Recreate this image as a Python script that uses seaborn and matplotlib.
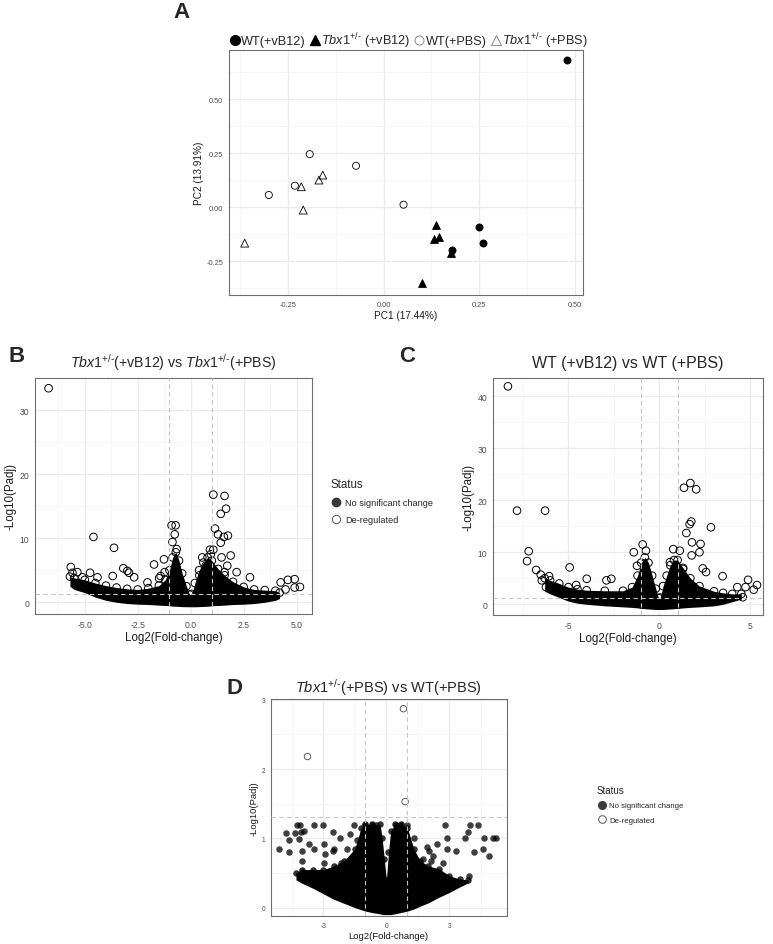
import numpy as np
import pandas as pd
import matplotlib
matplotlib.use('Agg')
import matplotlib.pyplot as plt
from matplotlib.lines import Line2D
from matplotlib.ticker import FixedLocator
import seaborn as sns

# ---------------- panel A : PCA ----------------
wt_vb12_pc1 = [0.479, 0.250, 0.260, 0.180]
wt_vb12_pc2 = [0.681, -0.091, -0.168, -0.199]
tbx_vb12_pc1 = [0.137, 0.144, 0.131, 0.177, 0.100]
tbx_vb12_pc2 = [-0.082, -0.139, -0.150, -0.214, -0.352]
wt_pbs_pc1 = [-0.193, -0.072, -0.232, -0.300, 0.052]
wt_pbs_pc2 = [0.245, 0.191, 0.099, 0.056, 0.011]
tbx_pbs_pc1 = [-0.215, -0.169, -0.159, -0.210, -0.363]
tbx_pbs_pc2 = [0.094, 0.125, 0.148, -0.014, -0.167]

# ---------------- panel B : Tbx1 vB12 vs PBS ----------------
b_out_x = [-6.71, -4.59, -3.62, -1.73, -1.26, -0.90, -0.71, -0.75, -0.86, -0.66,
           1.07, 1.60, 1.67, 1.42, 1.15, 1.29, 1.76, 1.42, 1.57, 0.91, 1.07, 0.95,
           1.89, 2.17, 2.80, 4.59, 4.91, 5.16, 4.91, 4.48, 4.25,
           -5.66, -5.58, -5.35, -5.11, -5.06, -4.75, -4.40, -3.68, -3.18, -2.99,
           -2.91, -2.67, -2.04, -1.49, -1.42, -1.23, 0.41, 0.71, 0.55, 1.46, 1.73, 1.60]
b_out_y = [33.4, 10.2, 8.5, 5.9, 6.7, 12.0, 12.0, 10.6, 9.4, 8.3,
           16.8, 16.6, 14.6, 13.8, 11.5, 10.6, 10.4, 9.3, 10.2, 8.2, 8.2, 7.5,
           7.3, 4.7, 3.9, 3.5, 3.6, 2.4, 2.3, 2.0, 3.1,
           5.5, 4.6, 4.7, 3.9, 2.6, 4.6, 3.9, 4.1, 5.3, 4.9,
           4.6, 3.9, 3.1, 3.75, 4.1, 4.7, 4.2, 5.7, 7.0, 7.0, 5.7, 4.7]
b_mass_x = [-5.7, -5.5, -5.0, -4.5, -4.0, -3.5, -3.0, -2.5, -2.0, -1.5, -1.2, -1.0,
            -0.85, -0.7, -0.55, -0.4, -0.2, -0.05, 0.05, 0.2, 0.4, 0.6, 0.8, 1.0,
            1.3, 1.6, 2.0, 2.5, 3.0, 3.5, 4.0, 4.2]
b_mass_top = [4.0, 3.8, 3.5, 3.0, 2.6, 2.3, 2.1, 2.0, 2.2, 2.6, 3.5, 5.0,
              7.0, 7.8, 6.5, 4.5, 2.5, 1.2, 1.3, 3.0, 5.0, 6.2, 7.0, 6.5,
              5.2, 4.2, 3.2, 2.4, 2.0, 1.9, 1.8, 1.5]
b_mass_bot = [2.5, 2.0, 1.5, 0.8, 0.3, 0.0, -0.2, -0.3, -0.35, -0.45, -0.5, -0.55,
              -0.6, -0.62, -0.65, -0.68, -0.7, -0.7, -0.7, -0.7, -0.68, -0.65, -0.62, -0.55,
              -0.5, -0.45, -0.35, -0.3, -0.2, 0.0, 0.3, 0.6]

# ---------------- panel C : WT vB12 vs PBS ----------------
c_out_x = [-8.32, -7.82, -6.28, -7.18, -7.27, -6.77, -6.52, -6.46, -6.23, -6.06,
           -4.93, -3.99, -2.91, -2.64, -4.57, -1.41, -0.92, -1.23, -0.74,
           1.35, 1.70, 2.02, 2.83, 1.75, 1.66, 1.48, 1.79, 2.26, 2.20, 1.77,
           3.47, 2.56, 1.12, 4.87, 5.36, 5.18, 4.73, 4.28, 4.58, 0.76, 0.58, 2.38, 1.30]
c_out_y = [41.9, 18.0, 18.0, 10.2, 8.3, 6.6, 5.7, 4.6, 3.3, 5.4,
           7.1, 4.9, 4.6, 4.9, 3.7, 10.0, 11.5, 7.4, 10.3,
           22.4, 23.3, 22.1, 14.8, 15.9, 15.4, 13.7, 11.9, 11.6, 10.0, 9.4,
           5.4, 6.2, 10.3, 4.7, 3.7, 2.8, 3.3, 3.3, 1.35, 10.6, 8.1, 6.9, 6.8]
c_mass_x = [-6.3, -6.0, -5.5, -5.0, -4.5, -4.0, -3.0, -2.0, -1.5, -1.2, -1.0, -0.8,
            -0.6, -0.4, -0.2, -0.05, 0.05, 0.2, 0.4, 0.6, 0.8, 1.0, 1.3, 1.7,
            2.2, 3.0, 3.5, 4.0, 4.5]
c_mass_top = [5.0, 4.6, 4.0, 3.3, 2.9, 2.7, 2.6, 2.6, 3.3, 5.5, 8.0, 9.0,
              8.0, 5.5, 3.0, 1.2, 1.3, 3.5, 5.5, 7.5, 8.5, 8.5, 7.0, 5.0,
              3.5, 2.5, 2.2, 2.0, 2.0]
c_mass_bot = [2.5, 2.0, 1.3, 0.6, 0.2, 0.0, -0.3, -0.5, -0.6, -0.7, -0.8, -0.85,
              -0.9, -0.95, -1.0, -1.0, -1.0, -1.0, -0.95, -0.9, -0.85, -0.8, -0.7, -0.6,
              -0.5, -0.3, 0.0, 0.5, 1.0]

# ---------------- panel D : Tbx1 PBS vs WT PBS ----------------
d_up_x = [0.81, -3.75, 0.89]
d_up_y = [2.87, 2.18, 1.53]
d_ns_x = [-4.26, -4.10, -3.43, -3.03, -1.55, -1.04, -0.67, -0.48, 0.48, 0.69, 0.96,
          2.79, 3.99, 4.34,
          -5.10, -4.78, -4.63, -4.34, -4.07, -3.91, -4.15, -3.67, -2.95, -2.90,
          -2.50, -2.55, -2.20, -1.87, -1.75, -1.59, -1.12, -1.39,
          1.31, 1.95, 2.42, 2.90, 2.90, 3.32, 3.75, 3.86, 4.63, 5.07, 5.23,
          4.90, 4.59, 4.18, 3.91, 2.71, 2.23, 2.04, 1.75, 2.11,
          -4.63, -3.99, -4.02, -3.99, -3.43, -2.95, -2.15, -2.55]
d_ns_y = [1.19, 1.19, 1.19, 1.19, 1.19, 1.19, 1.19, 1.19, 1.19, 1.19, 1.19,
          1.19, 1.19, 1.19,
          0.84, 1.08, 0.97, 1.08, 1.09, 1.11, 0.99, 0.92, 0.92, 0.77,
          0.84, 1.09, 1.00, 0.84, 1.06, 0.70, 1.08, 0.97,
          1.01, 0.87, 0.92, 1.01, 0.84, 0.82, 1.01, 1.09, 1.00, 1.00, 1.00,
          0.75, 0.85, 0.80, 0.46, 0.65, 0.75, 0.81, 0.70, 0.68,
          0.80, 0.82, 0.68, 0.51, 0.84, 0.64, 0.64, 0.82]
d_mass_x = [-4.3, -4.0, -3.5, -3.0, -2.5, -2.0, -1.5, -1.2, -1.0, -0.7, -0.3, -0.2,
            -0.1, 0.0, 0.1, 0.2, 0.4, 0.7, 1.0, 1.3, 1.6, 2.0, 2.5, 3.0, 3.5, 3.9]
d_mass_top = [0.5, 0.55, 0.55, 0.55, 0.6, 0.68, 0.85, 1.15, 1.2, 1.2, 1.2, 1.0,
              0.7, 0.4, 0.8, 1.1, 1.2, 1.2, 1.15, 0.85, 0.68, 0.6, 0.56, 0.46, 0.41, 0.4]
d_mass_bot = [0.4, 0.35, 0.28, 0.2, 0.12, 0.06, 0.0, -0.03, -0.05, -0.07, -0.09, -0.1,
              -0.1, -0.1, -0.1, -0.1, -0.09, -0.07, -0.05, -0.02, 0.02, 0.07, 0.15, 0.22, 0.3, 0.36]

sns.set_theme(style='whitegrid')
plt.rcParams['font.family'] = ['Liberation Sans', 'DejaVu Sans']
plt.rcParams['mathtext.fontset'] = 'custom'
plt.rcParams['mathtext.rm'] = 'Liberation Sans'
plt.rcParams['mathtext.it'] = 'Liberation Sans:italic'
plt.rcParams['mathtext.bf'] = 'Liberation Sans:bold'

TBX = r'$\mathit{Tbx1}^{\text{+/-}}$'
GRID_MAJ = '#EBEBEB'
GRID_MIN = '#F3F3F3'
DASH = '#C4C4C4'

fig = plt.figure(figsize=(7.73, 9.45), dpi=100)


def frame(ax, xlim, ylim, xmaj, xmin, ymaj, ymin, xlab, ylab, tick_fs, lab_fs):
    ax.set_xlim(xlim)
    ax.set_ylim(ylim)
    ax.xaxis.set_major_locator(FixedLocator(xmaj[0]))
    ax.yaxis.set_major_locator(FixedLocator(ymaj[0]))
    ax.set_xticklabels(xmaj[1])
    ax.set_yticklabels(ymaj[1])
    ax.xaxis.set_minor_locator(FixedLocator(xmin))
    ax.yaxis.set_minor_locator(FixedLocator(ymin))
    ax.grid(which='major', color=GRID_MAJ, lw=0.9)
    ax.grid(which='minor', color=GRID_MIN, lw=0.5)
    ax.set_axisbelow(True)
    for sp in ax.spines.values():
        sp.set_color('#6E6E6E')
        sp.set_linewidth(0.8)
    ax.tick_params(which='major', length=2.5, width=0.6, color='#555555',
                   labelsize=tick_fs, labelcolor='#4D4D4D', pad=1.5)
    ax.tick_params(which='minor', length=0)
    ax.set_xlabel(xlab, fontsize=lab_fs, color='#1A1A1A', labelpad=1.5)
    ax.set_ylabel(ylab, fontsize=lab_fs, color='#1A1A1A', labelpad=2)


# ---------------- A ----------------
axA = fig.add_axes([229 / 773, 1 - 296 / 945, 354 / 773, 245 / 945])
grpA = [
    (wt_vb12_pc1, wt_vb12_pc2, 'o', 'black', 26),
    (tbx_vb12_pc1, tbx_vb12_pc2, '^', 'black', 32),
    (wt_pbs_pc1, wt_pbs_pc2, 'o', 'none', 26),
    (tbx_pbs_pc1, tbx_pbs_pc2, '^', 'none', 32),
]
for px, py, mk, fc, sz in grpA:
    sns.scatterplot(x=px, y=py, ax=axA, marker=mk, s=sz, facecolor=fc,
                    edgecolor='black', linewidth=0.6, zorder=3)
frame(axA, (-0.404, 0.521), (-0.407, 0.727),
      ([-0.25, 0, 0.25, 0.5], ['-0.25', '0.00', '0.25', '0.50']),
      [-0.375, -0.125, 0.125, 0.375],
      ([-0.25, 0, 0.25, 0.5], ['-0.25', '0.00', '0.25', '0.50']),
      [-0.375, -0.125, 0.125, 0.375, 0.625],
      'PC1 (17.44%)', 'PC2 (13.91%)', 5.3, 7.2)

hA = [
    Line2D([], [], ls='none', marker='o', mfc='black', mec='black', ms=7, label='WT(+vB12)'),
    Line2D([], [], ls='none', marker='^', mfc='black', mec='black', ms=7.5, label=TBX + ' (+vB12)'),
    Line2D([], [], ls='none', marker='o', mfc='white', mec='#777777', mew=0.6, ms=6.5, label='WT(+PBS)'),
    Line2D([], [], ls='none', marker='^', mfc='white', mec='#777777', mew=0.6, ms=7.5, label=TBX + ' (+PBS)'),
]
fig.legend(handles=hA, loc='center', bbox_to_anchor=(408 / 773, 1 - 41 / 945), ncol=4,
           frameon=False, fontsize=9.2, handletextpad=0.0, columnspacing=0.2,
           handlelength=1.0, borderpad=0)


def volcano(ax, mx, mtop, mbot, ox, oy, s):
    ax.fill_between(mx, mbot, mtop, color='black', lw=0, zorder=2)
    sns.scatterplot(x=mx, y=mtop, ax=ax, s=s, facecolor='none',
                    edgecolor='black', linewidth=0.7, zorder=2.5)
    sns.scatterplot(x=ox, y=oy, ax=ax, s=s, facecolor='none',
                    edgecolor='black', linewidth=0.7, zorder=3)
    for v in (-1, 1):
        ax.axvline(v, color=DASH, ls=(0, (4, 3)), lw=0.8, zorder=4)
    ax.axhline(-np.log10(0.05), color=DASH, ls=(0, (4, 3)), lw=0.8, zorder=4)


# ---------------- B ----------------
axB = fig.add_axes([35 / 773, 1 - 615 / 945, 277 / 773, 236 / 945])
volcano(axB, b_mass_x, b_mass_top, b_mass_bot, b_out_x, b_out_y, 30)
frame(axB, (-7.35, 5.73), (-1.83, 35.0),
      ([-5, -2.5, 0, 2.5, 5], ['-5.0', '-2.5', '0.0', '2.5', '5.0']),
      [-6.25, -3.75, -1.25, 1.25, 3.75],
      ([0, 10, 20, 30], ['0', '10', '20', '30']), [5, 15, 25, 35],
      'Log2(Fold-change)', '-Log10(Padj)', 6.2, 8.3)
axB.set_title(TBX + '(+vB12) vs ' + TBX + '(+PBS)', fontsize=10.2, pad=8)

# ---------------- C ----------------
axC = fig.add_axes([493 / 773, 1 - 616 / 945, 270 / 773, 237 / 945])
volcano(axC, c_mass_x, c_mass_top, c_mass_bot, c_out_x, c_out_y, 30)
frame(axC, (-9.14, 5.69), (-2.06, 43.5),
      ([-5, 0, 5], ['-5', '0', '5']), [-7.5, -2.5, 2.5],
      ([0, 10, 20, 30, 40], ['0', '10', '20', '30', '40']), [5, 15, 25, 35],
      'Log2(Fold-change)', '-Log10(Padj)', 6.2, 8.3)
axC.set_title('WT (+vB12) vs WT (+PBS)', fontsize=11.5, pad=8)

# ---------------- D ----------------
axD = fig.add_axes([270.7 / 773, 1 - 917.3 / 945, 236 / 773, 217.3 / 945])
axD.fill_between(d_mass_x, d_mass_bot, d_mass_top, color='black', lw=0, zorder=2)
sns.scatterplot(x=d_mass_x, y=d_mass_top, ax=axD, s=22,
                color='black', alpha=0.8, linewidth=0, zorder=2.5)
sns.scatterplot(x=d_ns_x, y=d_ns_y, ax=axD, s=22, color='black', alpha=0.75,
                linewidth=0, zorder=3)
sns.scatterplot(x=d_up_x, y=d_up_y, ax=axD, s=22, facecolor='none',
                edgecolor='#444444', linewidth=0.6, zorder=3)
for v in (-1, 1):
    axD.axvline(v, color=DASH, ls=(0, (4, 3)), lw=0.8, zorder=4)
axD.axhline(-np.log10(0.05), color=DASH, ls=(0, (4, 3)), lw=0.8, zorder=4)
frame(axD, (-5.5, 5.72), (-0.125, 3.01),
      ([-3, 0, 3], ['-3', '0', '3']), [-4.5, -1.5, 1.5, 4.5],
      ([0, 1, 2, 3], ['0', '1', '2', '3']), [0.5, 1.5, 2.5],
      'Log2(Fold-change)', '-Log10(Padj)', 4.8, 6.8)
axD.set_title(TBX + '(+PBS) vs WT(+PBS)', fontsize=10.5, pad=5)


# ---------------- legends ----------------
def status_legend(x, y, fs, tfs, ms):
    h = [
        Line2D([], [], ls='none', marker='o', mfc='#3A3A3A', mec='#3A3A3A', ms=ms,
               label='No significant change'),
        Line2D([], [], ls='none', marker='o', mfc='white', mec='#555555', mew=0.7, ms=ms,
               label='De-regulated'),
    ]
    lg = fig.legend(handles=h, title='Status', loc='upper left', bbox_to_anchor=(x, y),
                    frameon=False, fontsize=fs, title_fontsize=tfs, handletextpad=0.4,
                    handlelength=1.2, borderpad=0, labelspacing=0.9)
    lg._legend_box.align = 'left'


status_legend(326 / 773, 1 - 474 / 945, 6.6, 8.3, 6)
status_legend(593 / 773, 1 - 782 / 945, 5.6, 7.0, 5.5)

# ---------------- panel letters ----------------
for lab, x, y in [('A', 181, 12), ('B', 17, 356), ('C', 407, 356), ('D', 235, 688)]:
    fig.text(x / 773, 1 - y / 945, lab, fontsize=16, fontweight='bold',
             ha='center', va='center')

fig.savefig('out.png', dpi=100)
